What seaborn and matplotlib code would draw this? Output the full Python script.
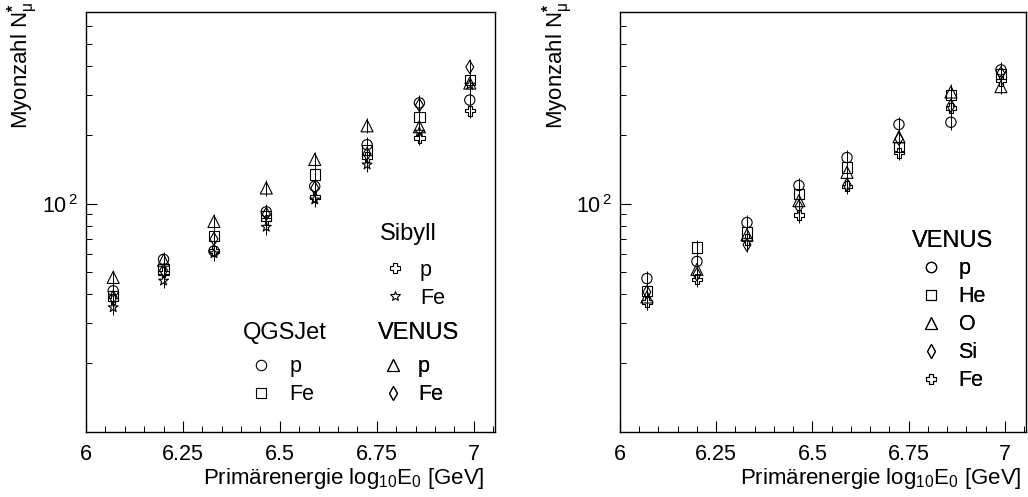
import numpy as np
import matplotlib
matplotlib.use("Agg")
import matplotlib.pyplot as plt
import seaborn as sns
from matplotlib.lines import Line2D
from matplotlib.ticker import FixedLocator, LogLocator, MultipleLocator, NullFormatter, FixedFormatter

# ---------------- data ----------------
energy = [6.07, 6.20, 6.33, 6.465, 6.59, 6.725, 6.86, 6.99]

# left panel: hadronic interaction models
qgsjet_p = [41.5, 57.0, 62.0, 92.0, 119.0, 181.0, 276.0, 284.0]
qgsjet_fe = [39.4, 51.5, 72.0, 88.0, 134.0, 172.0, 240.0, 348.0]
venus_p = [47.5, 56.5, 83.5, 117.0, 156.0, 219.0, 217.0, 337.0]
venus_fe = [38.9, 51.0, 70.0, 90.0, 117.0, 165.0, 270.0, 396.0]
sibyll_p = [38.1, 50.0, 62.0, 85.0, 107.0, 160.0, 194.0, 255.0]
sibyll_fe = [35.1, 45.9, 60.5, 79.0, 104.0, 148.0, 206.0, 331.0]

# right panel: VENUS, different primaries
v_p = [47.0, 55.8, 82.6, 120.0, 159.0, 222.0, 227.0, 385.0]
v_he = [41.5, 64.2, 74.7, 110.0, 144.0, 177.0, 299.0, 370.0]
v_o = [39.0, 51.5, 73.0, 103.0, 137.0, 196.0, 308.0, 325.0]
v_si = [41.0, 49.0, 66.0, 97.0, 121.0, 192.0, 268.0, 372.0]
v_fe = [37.0, 46.6, 69.6, 89.0, 119.0, 167.0, 262.0, 345.0]

rel_err = 0.08  # approximate relative statistical error

xtick_vals = [6.0, 6.25, 6.5, 6.75, 7.0]
xtick_labels = ["6", "6.25", "6.5", "6.75", "7"]
ytick_vals = [100]
ytick_labels = ["10$^{\\,2}$"]

# ---------------- style ----------------
sns.set_theme(style="ticks")
plt.rcParams.update({
    "font.family": ["Liberation Sans", "DejaVu Sans"],
    "mathtext.fontset": "custom",
    "mathtext.rm": "Liberation Sans",
    "mathtext.it": "Liberation Sans:italic",
    "mathtext.bf": "Liberation Sans:bold",
    "mathtext.sf": "Liberation Sans",
    "axes.edgecolor": "black",
    "axes.linewidth": 1.0,
    "axes.facecolor": "white",
    "figure.facecolor": "white",
    "text.color": "black",
    "axes.labelcolor": "black",
    "xtick.color": "black",
    "ytick.color": "black",
})

fig = plt.figure(figsize=(10.28, 4.97), dpi=100)
axL = fig.add_axes([0.0837, 0.1308, 0.3978, 0.8451])
axR = fig.add_axes([0.6031, 0.1308, 0.3949, 0.8451])

MS = {"o": 55, "s": 55, "^": 75, "d": 45, "P": 55, "*": 55}


def draw(ax, y, marker):
    y = np.asarray(y, dtype=float)
    lo = y - y / (1 + rel_err)
    hi = y * rel_err
    ax.errorbar(energy, y, yerr=[lo, hi], fmt="none", ecolor="black",
                elinewidth=0.7, capsize=0, zorder=2)
    sns.scatterplot(x=energy, y=y, marker=marker, s=MS[marker], ax=ax,
                    color="black", linewidth=0.8, zorder=3, legend=False)
    coll = ax.collections[-1]
    coll.set_facecolor("none")
    coll.set_edgecolor("black")


def style_axis(ax):
    ax.set_yscale("log")
    ax.set_xlim(6.0, 7.055)
    ax.set_ylim(10, 690)
    for s in ax.spines.values():
        s.set_visible(True)
        s.set_color("black")
        s.set_linewidth(1.0)
    ax.xaxis.set_major_locator(FixedLocator(xtick_vals))
    ax.xaxis.set_major_formatter(FixedFormatter(xtick_labels))
    ax.xaxis.set_minor_locator(MultipleLocator(0.05))
    ax.yaxis.set_major_locator(FixedLocator(ytick_vals))
    ax.yaxis.set_major_formatter(FixedFormatter(ytick_labels))
    ax.yaxis.set_minor_locator(LogLocator(base=10, subs=np.arange(2, 10)))
    ax.yaxis.set_minor_formatter(NullFormatter())
    ax.tick_params(which="both", direction="in", top=False, right=False,
                   colors="black", labelsize=15.5)
    ax.tick_params(which="major", length=8, width=0.8)
    ax.tick_params(which="minor", length=4.5, width=0.7)
    ax.tick_params(axis="x", which="major", pad=9)
    ax.tick_params(axis="y", which="major", pad=6)
    ax.set_xlabel("Primärenergie log$_{10}$E$_0$ [GeV]", fontsize=16, ha="right")
    ax.set_ylabel("Myonzahl N$^{\\mathbf{*}}_{\\mathrm{μ}}$", fontsize=16, ha="right")
    ax.grid(False)


def make_legend(ax, title, labels, markers, anchor, hl=1.4, gap=11.0):
    handles = [Line2D([], [], linestyle="none", marker=m,
                      markersize=(8.0 if m == "^" else 7.5),
                      markerfacecolor="none", markeredgecolor="black",
                      markeredgewidth=0.8) for m in markers]
    leg = ax.legend(handles, labels, title=title, loc="upper left",
                    bbox_to_anchor=anchor, frameon=False, fontsize=15.5,
                    title_fontsize=17, handlelength=hl, handletextpad=0.45,
                    labelspacing=0.32, borderpad=0, borderaxespad=0,
                    alignment="left")
    leg._legend_box.sep = gap  # gap between title and entries (points)
    ax.add_artist(leg)
    return leg


# ---------------- left panel ----------------
style_axis(axL)
draw(axL, qgsjet_p, "o")
draw(axL, qgsjet_fe, "s")
draw(axL, venus_p, "^")
draw(axL, venus_fe, "d")
draw(axL, sibyll_p, "P")
draw(axL, sibyll_fe, "*")
axL.xaxis.set_label_coords(0.975, -0.08)
axL.yaxis.set_label_coords(-0.112, 1.025)
make_legend(axL, "Sibyll", ["p", "Fe"], ["P", "*"], (0.719, 0.497), gap=10.5)
make_legend(axL, "QGSJet", ["p", "Fe"], ["o", "s"], (0.384, 0.262), hl=1.7, gap=9.0)
make_legend(axL, "VENUS", ["p", "Fe"], ["^", "d"], (0.714, 0.262), gap=9.0)

# ---------------- right panel ----------------
style_axis(axR)
draw(axR, v_p, "o")
draw(axR, v_he, "s")
draw(axR, v_o, "^")
draw(axR, v_si, "d")
draw(axR, v_fe, "P")
axR.xaxis.set_label_coords(0.99, -0.08)
axR.yaxis.set_label_coords(-0.11, 1.025)
make_legend(axR, "VENUS", ["p", "He", "O", "Si", "Fe"], ["o", "s", "^", "d", "P"],
            (0.72, 0.482), hl=1.7, gap=5.0)

fig.savefig("out.png", dpi=100)
